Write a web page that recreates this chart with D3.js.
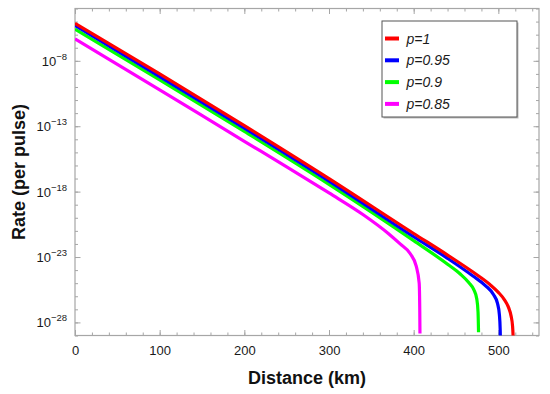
<!DOCTYPE html>
<html>
<head>
<meta charset="utf-8">
<title>Rate vs distance</title>
<script src="https://d3js.org/d3.v7.min.js"></script>
<style>
  body { margin: 0; background: #fff; }
  svg { display: block; font-family: "Liberation Sans", Arial, sans-serif; }
</style>
</head>
<body>
<svg id="chart" width="550" height="394"></svg>
<script>
  // values: distance (km) and log10 of the rate per pulse
  const seriesNames = ["p=1", "p=0.95", "p=0.9", "p=0.85"];
  const seriesColors = ["#ff0000", "#0000ff", "#00ff00", "#ff00ff"];

  const distP100 = [0, 100, 200, 300, 400, 440, 470, 490, 500, 507, 512, 515, 516.8, 517.6, 518];
  const logRateP100 = [-5.13, -9.0, -12.95, -17.0, -21.2, -22.85, -24.15, -25.1, -25.7, -26.25, -26.85, -27.5, -28.3, -29.3, -30];

  const distP095 = [0, 100, 200, 300, 400, 440, 470, 485, 494, 499, 501.2, 502.2, 502.6];
  const logRateP095 = [-5.3, -9.2, -13.15, -17.2, -21.45, -23.1, -24.45, -25.2, -25.85, -26.55, -27.4, -28.6, -30];

  const distP090 = [0, 100, 200, 300, 400, 440, 455, 465, 471, 474.5, 476, 476.6];
  const logRateP090 = [-5.57, -9.45, -13.4, -17.45, -21.75, -23.55, -24.3, -24.95, -25.5, -26.2, -27.2, -28.75];

  const distP085 = [0, 100, 200, 250, 300, 340, 370, 384, 396, 403, 406.5, 407.2, 407.4];
  const logRateP085 = [-6.32, -10.22, -14.15, -16.1, -18.1, -19.75, -21.2, -22.0, -22.75, -23.7, -25.0, -27.2, -28.85];

  const xMajorTicks = [0, 100, 200, 300, 400, 500];
  const yMajorExps = [-8, -13, -18, -23, -28];

  const series = [
    { name: seriesNames[0], color: seriesColors[0], dist: distP100, logRate: logRateP100 },
    { name: seriesNames[1], color: seriesColors[1], dist: distP095, logRate: logRateP095 },
    { name: seriesNames[2], color: seriesColors[2], dist: distP090, logRate: logRateP090 },
    { name: seriesNames[3], color: seriesColors[3], dist: distP085, logRate: logRateP085 }
  ];

  const margin = { top: 8.5, right: 11, bottom: 58.5, left: 75 };
  const svg = d3.select("#chart"),
    width = +svg.attr("width") - margin.left - margin.right,
    height = +svg.attr("height") - margin.top - margin.bottom,
    g = svg.append("g").attr("transform", `translate(${margin.left}, ${margin.top})`);

  const x = d3.scaleLinear().domain([0, 548]).range([0, width]);
  const y = d3.scaleLog().domain([1e-29, 1e-4]).range([height, 0]);

  const frameColor = "#a6a6a6";

  // minor + major ticks, drawn on all four sides, pointing inward
  const xMinor = d3.range(0, 548, 20);
  const yAll = d3.range(-29, -3).map(e => Math.pow(10, e));

  g.append("g")
    .attr("transform", `translate(0, ${height})`)
    .call(d3.axisBottom(x).tickValues(xMinor).tickSize(-3).tickFormat(""))
    .call(a => a.select(".domain").remove());
  g.append("g")
    .call(d3.axisTop(x).tickValues(xMinor).tickSize(-3).tickFormat(""))
    .call(a => a.select(".domain").remove());
  g.append("g")
    .attr("transform", `translate(0, ${height})`)
    .call(d3.axisBottom(x).tickValues(xMajorTicks).tickSize(-5.5).tickPadding(10))
    .call(a => a.select(".domain").remove());
  g.append("g")
    .call(d3.axisTop(x).tickValues(xMajorTicks).tickSize(-5.5).tickFormat(""))
    .call(a => a.select(".domain").remove());

  g.append("g")
    .call(d3.axisLeft(y).tickValues(yAll).tickSize(-3).tickFormat(""))
    .call(a => a.select(".domain").remove());
  g.append("g")
    .attr("transform", `translate(${width}, 0)`)
    .call(d3.axisRight(y).tickValues(yAll).tickSize(-3).tickFormat(""))
    .call(a => a.select(".domain").remove());
  const yMajor = yMajorExps.map(e => Math.pow(10, e));
  g.append("g")
    .call(d3.axisLeft(y).tickValues(yMajor).tickSize(-5.5).tickFormat(""))
    .call(a => a.select(".domain").remove());
  g.append("g")
    .attr("transform", `translate(${width}, 0)`)
    .call(d3.axisRight(y).tickValues(yMajor).tickSize(-5.5).tickFormat(""))
    .call(a => a.select(".domain").remove());

  g.selectAll(".tick line").attr("stroke", frameColor);
  g.selectAll(".tick text")
    .attr("fill", "#1a1a1a")
    .style("font-size", "13px")
    .style("font-family", "'Liberation Sans', Arial, sans-serif");

  // y labels as 10 with superscript exponent
  const yLab = g.append("g").selectAll("text")
    .data(yMajorExps)
    .enter().append("text")
    .attr("x", -8)
    .attr("y", d => y(Math.pow(10, d)) + 5)
    .attr("text-anchor", "end")
    .attr("fill", "#1a1a1a")
    .style("font-size", "13px");
  yLab.append("tspan").text("10");
  yLab.append("tspan")
    .attr("dy", -6)
    .style("font-size", "9.5px")
    .text(d => "\u2212" + Math.abs(d));

  // frame
  g.append("rect")
    .attr("width", width)
    .attr("height", height)
    .attr("fill", "none")
    .attr("stroke", frameColor)
    .attr("stroke-width", 1.2);

  g.append("clipPath").attr("id", "plot-clip")
    .append("rect").attr("width", width).attr("height", height);

  const line = d3.line()
    .x(d => x(d[0]))
    .y(d => y(Math.pow(10, d[1])))
    .curve(d3.curveMonotoneX);

  // draw p=0.85 first so p=1 ends up on top
  g.append("g").attr("clip-path", "url(#plot-clip)")
    .selectAll("path")
    .data(series.slice().reverse())
    .enter().append("path")
    .attr("d", s => line(s.dist.map((v, i) => [v, s.logRate[i]])))
    .attr("fill", "none")
    .attr("stroke", s => s.color)
    .attr("stroke-width", 3.2)
    .attr("stroke-linejoin", "round");

  // axis titles
  svg.append("text")
    .attr("x", margin.left + width / 2)
    .attr("y", 384)
    .attr("text-anchor", "middle")
    .style("font-size", "18px")
    .style("font-weight", "bold")
    .attr("fill", "#111")
    .text("Distance (km)");

  svg.append("text")
    .attr("transform", `translate(25, ${margin.top + height / 2}) rotate(-90)`)
    .attr("text-anchor", "middle")
    .style("font-size", "18px")
    .style("font-weight", "bold")
    .attr("fill", "#111")
    .text("Rate (per pulse)");

  // legend
  const legend = svg.append("g").attr("transform", "translate(382, 21)");
  legend.append("rect")
    .attr("x", 1.5).attr("y", 1.5)
    .attr("width", 135).attr("height", 96)
    .attr("fill", "#bbb");
  legend.append("rect")
    .attr("width", 135).attr("height", 96)
    .attr("fill", "#fff")
    .attr("stroke", "#555")
    .attr("stroke-width", 1);

  const item = legend.selectAll(".item")
    .data(series)
    .enter().append("g")
    .attr("class", "item")
    .attr("transform", (d, i) => `translate(0, ${17.5 + i * 21.8})`);
  item.append("line")
    .attr("x1", 3).attr("x2", 17)
    .attr("stroke", d => d.color)
    .attr("stroke-width", 4);
  item.append("text")
    .attr("x", 24.5)
    .attr("y", 5)
    .style("font-size", "14px")
    .style("font-style", "italic")
    .attr("fill", "#1a1a1a")
    .text(d => d.name);
</script>
</body>
</html>
